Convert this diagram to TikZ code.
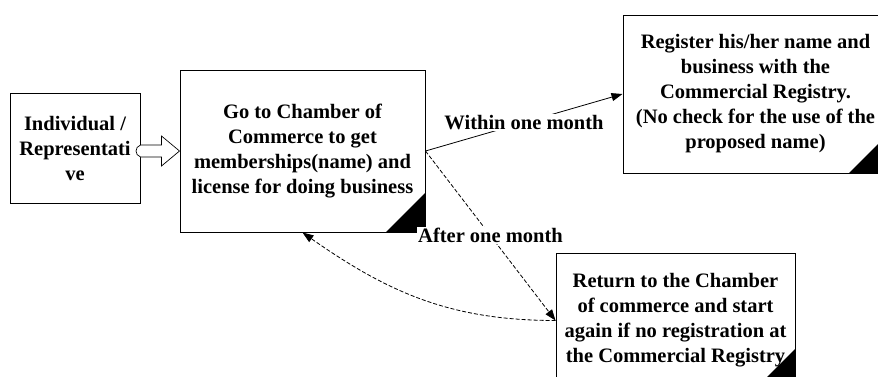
\documentclass[tikz,border=0pt]{standalone}
\usepackage{fontspec}
\setmainfont{Liberation Serif}
\usetikzlibrary{arrows.meta}

\begin{document}
\begin{tikzpicture}[x=1pt,y=1pt,
  font=\bfseries\fontsize{20.5}{25}\selectfont,
  box/.style={draw, line width=1pt, align=center, inner sep=0pt},
  tag/.style={fill=white, inner sep=1pt},
  tip/.style={-{Triangle[length=11pt,width=8pt]}, line width=0.8pt},
  later/.style={tip, dash pattern=on 4pt off 2pt}]
  \clip (0,0) rectangle (878,376);
  % boxes
  \node[box, minimum width=130, minimum height=110] (ind) at (75,227.5)
    {Individual /\\Representati\\ve};
  \node[box, minimum width=245, minimum height=162] (go) at (302.5,225)
    {Go to Chamber of\\Commerce to get\\memberships(name) and\\license for doing business};
  \node[box, minimum width=265, minimum height=158] (reg) at (755.5,282)
    {Register his/her name and\\business with the\\Commercial Registry.\\(No check for the use of the\\proposed name)};
  \node[box, minimum width=239, minimum height=135] (ret) at (675.5,55.5)
    {Return to the Chamber\\of commerce and start\\again if no registration at\\the Commercial Registry};
  % black corners
  \fill (go.south east) -- ++(-40,0) -- ++(40,40) -- cycle;
  \fill (reg.south east) -- ++(-40,0) -- ++(40,40) -- cycle;
  \fill (ret.south east) -- ++(-40,0) -- ++(40,40) -- cycle;
  % hollow arrow
  \draw[fill=white, line width=0.7pt] (go.west) -- ++(-18,15) -- ++(0,-9) -- ++(-21,0)
    .. controls +(-6,-2) and +(-6,2) .. ++(0,-12) -- ++(21,0) -- ++(0,-9) -- cycle;
  % connectors
  \draw[tip] (go.east) -- node[tag, pos=0.5] {Within one month} (reg.west);
  \draw[later] (go.east) -- node[tag, pos=0.5] {After one month} (ret.west);
  \draw[later] (ret.west) to[out=180, in=-35] (go.south);
\end{tikzpicture}
\end{document}
